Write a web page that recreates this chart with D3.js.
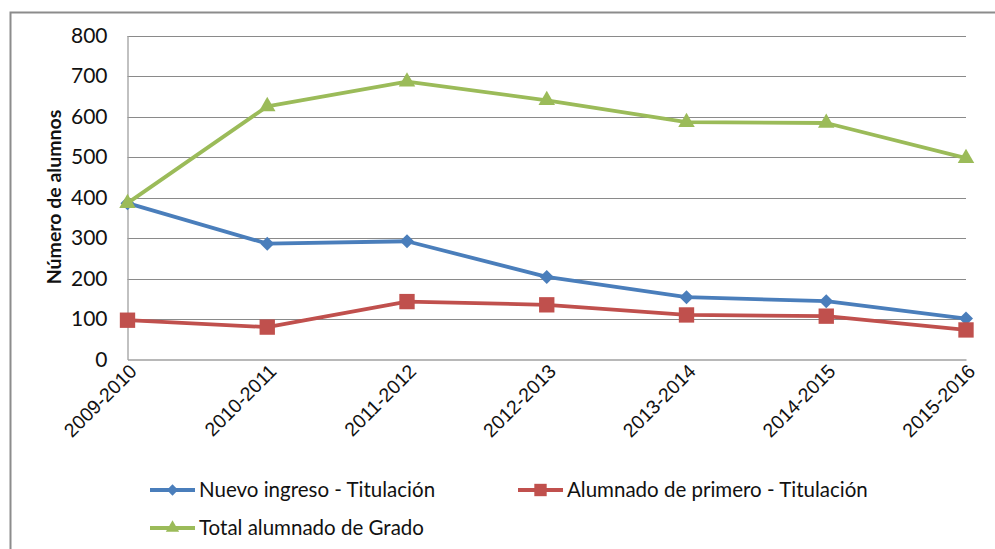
<!DOCTYPE html>
<html>
<head>
<meta charset="utf-8">
<script src="https://cdn.jsdelivr.net/npm/d3@7"></script>
<style>
  body { margin: 0; background: #fff; }
  svg { display: block; font-family: Lato, "Open Sans", sans-serif; }
</style>
</head>
<body>
<svg id="chart" width="995" height="549"></svg>
<script>
const courses = ["2009-2010", "2010-2011", "2011-2012", "2012-2013", "2013-2014", "2014-2015", "2015-2016"];
const nuevoIngreso = [386, 286, 292, 204, 154, 144, 101];
const alumnadoPrimero = [97, 80, 143, 135, 110, 107, 73];
const totalGrado = [386, 625, 686, 640, 586, 584, 497];
const yTicks = [0, 100, 200, 300, 400, 500, 600, 700, 800];

const seriesList = [
	{ name: "Nuevo ingreso - Titulación", values: nuevoIngreso, color: "#4A7EBB", shape: d3.symbolDiamond2, size: 125 },
	{ name: "Alumnado de primero - Titulación", values: alumnadoPrimero, color: "#C0504D", shape: d3.symbolSquare2, size: 300 },
	{ name: "Total alumnado de Grado", values: totalGrado, color: "#9BBB59", shape: d3.symbolTriangle2, size: 195 }
];

const svg = d3.select("#chart");

// outer chart frame (cropped on right and bottom)
svg.append("rect")
	.attr("x", 10.5).attr("y", 12.5)
	.attr("width", 1000).attr("height", 600)
	.attr("fill", "none").attr("stroke", "#8c8c8c").attr("stroke-width", 2);

const plot = { left: 127.5, right: 966, top: 35.5, bottom: 359.5 };

const x = d3.scalePoint().domain(courses).range([plot.left, plot.right]);
const y = d3.scaleLinear().domain([0, 800]).range([plot.bottom, plot.top]);

// gridlines
svg.append("g")
	.selectAll("line")
	.data(yTicks.filter(d => d > 0))
	.join("line")
	.attr("x1", plot.left).attr("x2", plot.right)
	.attr("y1", d => Math.round(y(d)) + 0.5).attr("y2", d => Math.round(y(d)) + 0.5)
	.attr("stroke", "#8a8a8a").attr("stroke-width", 1.2);

// y axis
const yAxis = svg.append("g")
	.attr("transform", `translate(${plot.left},0)`)
	.call(d3.axisLeft(y).tickValues(yTicks).tickSize(0).tickPadding(20));
yAxis.select(".domain").attr("stroke", "#a0a0a0").attr("stroke-width", 1.3);
yAxis.selectAll("text").attr("font-size", 21).attr("fill", "#111").attr("font-family", "Lato, sans-serif");

// x axis
const xAxis = svg.append("g")
	.attr("transform", `translate(0,${plot.bottom})`)
	.call(d3.axisBottom(x).tickSize(0).tickPadding(0));
xAxis.select(".domain").attr("stroke", "#a0a0a0").attr("stroke-width", 1.3);
xAxis.selectAll("text")
	.attr("font-size", 19.5).attr("fill", "#111")
	.attr("text-anchor", "end")
	.attr("dy", "0")
	.attr("transform", "translate(10,13) rotate(-45)");

// y axis title
svg.append("text")
	.attr("transform", "translate(61,197) rotate(-90)")
	.attr("text-anchor", "middle")
	.attr("font-size", 19.5).attr("font-weight", "bold").attr("fill", "#111")
	.text("Número de alumnos");

// lines and markers
const line = d3.line().x((d, i) => x(courses[i])).y(d => y(d));

seriesList.forEach(s => {
	const g = svg.append("g");
	g.append("path")
		.datum(s.values)
		.attr("d", line)
		.attr("fill", "none")
		.attr("stroke", s.color)
		.attr("stroke-width", 3.8)
		.attr("stroke-linejoin", "round");
	g.selectAll("path.marker")
		.data(s.values)
		.join("path")
		.attr("class", "marker")
		.attr("transform", (d, i) => `translate(${x(courses[i])},${y(d)})`)
		.attr("d", d3.symbol().type(s.shape).size(s.size))
		.attr("fill", s.color);
});

// legend
const legendPos = [
	{ x: 150, y: 490 },
	{ x: 518, y: 490 },
	{ x: 150, y: 528 }
];
seriesList.forEach((s, i) => {
	const p = legendPos[i];
	const g = svg.append("g").attr("transform", `translate(${p.x},${p.y})`);
	g.append("line")
		.attr("x1", 0).attr("x2", 45)
		.attr("stroke", s.color).attr("stroke-width", 3.8);
	g.append("path")
		.attr("transform", "translate(22.5,0)")
		.attr("d", d3.symbol().type(s.shape).size(s.size * 0.65))
		.attr("fill", s.color);
	g.append("text")
		.attr("x", 49).attr("dy", "0.35em")
		.attr("font-size", 20.5).attr("fill", "#111")
		.text(s.name);
});
</script>
</body>
</html>
